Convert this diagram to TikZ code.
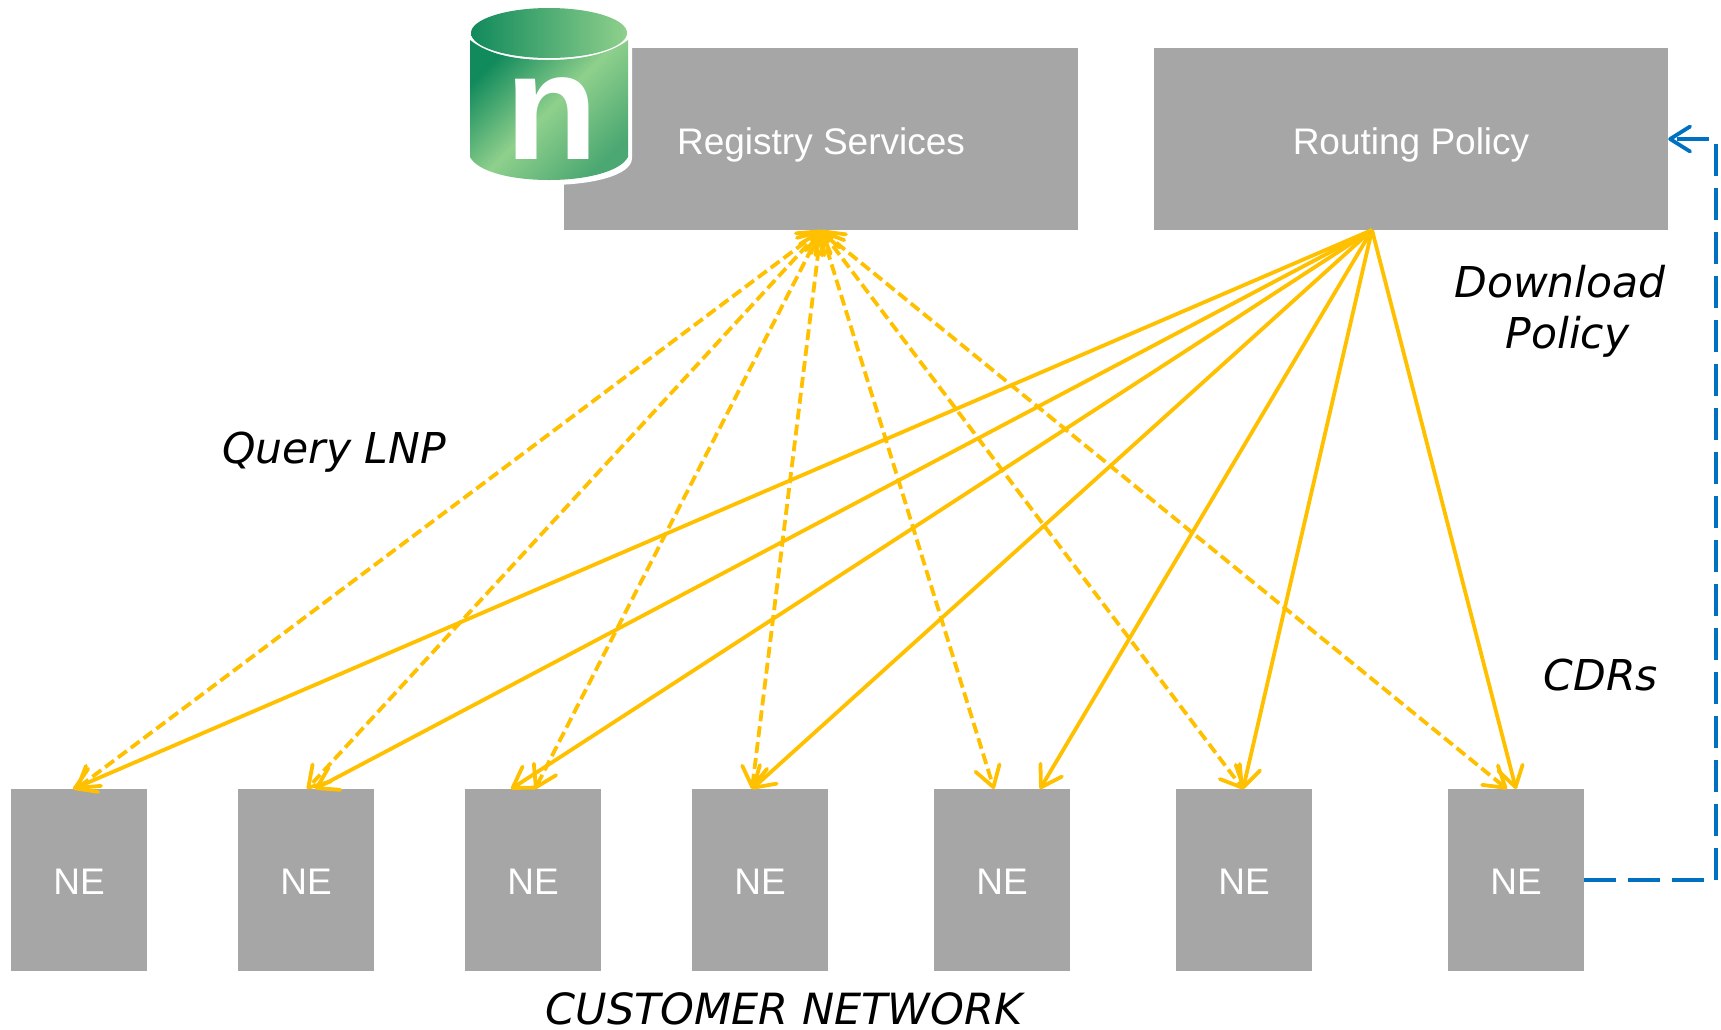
\documentclass[tikz,border=0pt]{standalone}
\usepackage{fontspec}
\usepackage{xcolor}
\setmainfont{Liberation Sans}
\newfontfamily\notefont{DejaVu Sans}
\usetikzlibrary{arrows.meta, positioning}
\definecolor{boxgrey}{HTML}{A6A6A6}
\definecolor{linkyellow}{HTML}{FFC000}
\definecolor{cdrblue}{HTML}{0070C0}
\definecolor{dbdark}{HTML}{118A5C}
\definecolor{dblight}{HTML}{8FD08C}
\definecolor{dbmid}{HTML}{4CA872}

\begin{document}
\begin{tikzpicture}[x=1pt, y=-1pt,
    >={Straight Barb[round, length=20pt, width=25pt, line width=3.8pt]},
    server/.style={fill=boxgrey, minimum width=514pt, minimum height=182pt, inner sep=0pt, text=white, font=\fontsize{37}{44}\selectfont},
    element/.style={fill=boxgrey, minimum width=136pt, minimum height=182pt, inner sep=0pt, text=white, text height=29pt, font=\fontsize{37}{44}\selectfont},
    note/.style={inner sep=0pt, align=center, font=\fontsize{42.5}{51}\notefont\itshape},
    query/.style={draw=linkyellow, line width=3.8pt, dash pattern=on 11pt off 5pt, <->},
    policy/.style={draw=linkyellow, line width=3.8pt, ->},
    cdr/.style={draw=cdrblue, line width=3.8pt, dash pattern=on 32pt off 12pt, ->}]
    \useasboundingbox (0,0) rectangle (1721,1029);

    % Top servers
    \node[server] (registry) at (821,139) {};
    \node[server] (routing) at (1411,139) {};
    \node[server, fill=none] (registrytext) at (821,145) {Registry Services};
    \node[server, fill=none] (routingtext) at (1411,145) {Routing Policy};

    % Database icon
    \fill[white] (466,40) -- (632,40) -- (632,158) .. controls (632,176) and (590,185) .. (549,185) .. controls (510,185) and (466,176) .. (466,158) -- cycle;
    \shade[top color=dbdark, bottom color=dbmid, middle color=dblight, shading angle=45]
        (470,40) .. controls (490,56) and (520,60) .. (549,60) .. controls (580,60) and (610,54) .. (628,40) -- (628,157)
        .. controls (620,172) and (585,180) .. (549,180) .. controls (512,180) and (478,172) .. (470,157) -- cycle;
    \shade[left color=dbdark, right color=dblight] (549,33) ellipse (78pt and 25pt);
    \node[inner sep=0pt, text=white, font=\fontsize{152}{152}\selectfont\bfseries] (dbletter) at (552,119) {n};

    % Network elements with their links
    \coordinate (regout) at (registry.south);
    \coordinate (routeout) at (1372,230);
    \foreach \name/\x/\qx/\px in {1/79/76/73, 2/306/307/315, 3/533/535/511, 4/760/752/752, 5/1002/994/1040, 6/1244/1243/1243, 7/1516/1507/1516} {
        \node[element] (ne\name) at (\x,880) {NE};
        \coordinate (qend\name) at (\qx,789);
        \coordinate (pend\name) at (\px,789);
        \draw[query] (regout) -- (qend\name);
        \draw[policy] (routeout) -- (pend\name);
    }

    % CDR return path
    \coordinate (cdrlow) at (1716,880);
    \coordinate (cdrhigh) at (1716,139);
    \draw[cdr] (ne7.east) -- (cdrlow) -- (cdrhigh) -- (routing.east);

    % Labels
    \node[note] (querylabel) at (334,452) {Query LNP};
    \node[note] (downloadlabel) at (1560,311) {Download\\\hspace*{15pt}Policy};
    \node[note] (cdrlabel) at (1601,675) {CDRs};
    \node[note, font=\fontsize{43}{51}\notefont\itshape] (customerlabel) at (784,1009) {CUSTOMER NETWORK};
\end{tikzpicture}
\end{document}
